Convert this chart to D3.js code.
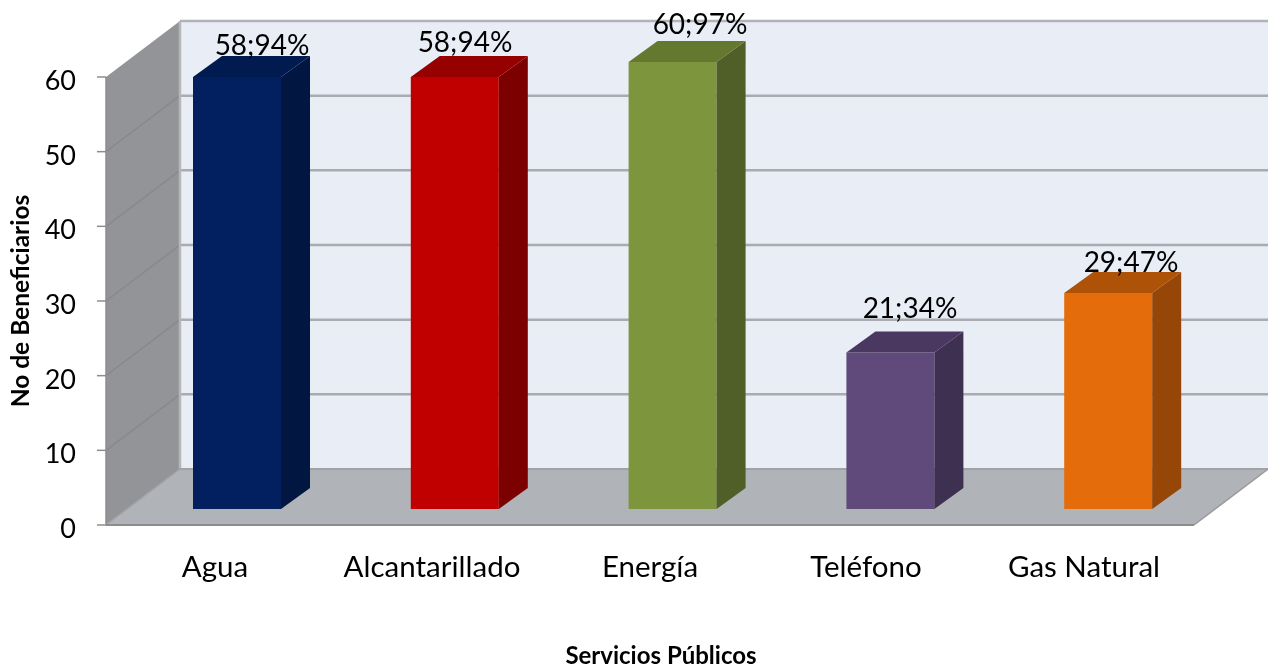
<!DOCTYPE html>
<html><head><meta charset="utf-8"><script src="https://cdn.jsdelivr.net/npm/d3@7"></script>
<style>html,body{margin:0;background:#fff}svg{display:block;filter:blur(0.35px)}text{font-family:Lato,"Noto Sans",sans-serif;fill:#000}</style></head><body>
<svg id="c" width="1268" height="671"></svg>
<script>
const categories=["Agua","Alcantarillado","Energía","Teléfono","Gas Natural"];
const values=[58,58,60,21,29];
const labels=["58;94%","58;94%","60;97%","21;34%","29;47%"];
const frontColors=["#02205f","#c00000","#7d953c","#604a7b","#e46c0a"];
const sideColors=["#011640","#7d0000","#4f5f27","#3e3050","#964607"];
const topColors=["#011a50","#960000","#65782f","#4a3860","#ae5207"];
const ticks=[0,10,20,30,40,50,60];
const svg=d3.select("#c");
const y=d3.scaleLinear().domain([0,60]).range([525,77]);
const dx=74,dy=-56,bdx=29,bdy=-21,barW=88,baseY=509;
const barLeft=d3.scaleBand().domain(categories).range([193,1282]).paddingInner(0);
const bs=d3.scaleLinear().domain([0,60]).range([baseY,62]);
const labelPos=[[262,55],[465,52],[700,34],[910,318],[1131,272]];
const catX=[215,432,650,866,1084];
const poly=(pts,fill)=>svg.append("polygon").attr("points",pts.map(p=>p.join(",")).join(" ")).attr("fill",fill);
const x0=106,x1=1194,yb=y(0),yt=y(60),topY=yt+dy;
poly([[x0+dx,topY],[1268,topY],[1268,yb+dy],[x0+dx,yb+dy]],"#e8edf6");
poly([[x0,yt],[x0+dx,topY],[x0+dx,yb+dy],[x0,yb]],"#939497");
poly([[x0,yb],[x0+dx,yb+dy],[x1+dx,yb+dy],[x1,yb]],"#b0b3b8");
svg.append("line").attr("x1",x0+dx).attr("x2",1268).attr("y1",topY).attr("y2",topY).attr("stroke","#b2b3b6").attr("stroke-width",2.5);
ticks.forEach(t=>{
  if(t===0||t===60)return;
  const p=y(t);
  svg.append("line").attr("x1",x0+dx).attr("x2",1268).attr("y1",p+dy).attr("y2",p+dy).attr("stroke","#a9abb0").attr("stroke-width",2.5);
  svg.append("line").attr("x1",x0).attr("x2",x0+dx).attr("y1",p).attr("y2",p+dy).attr("stroke","#88898c").attr("stroke-width",1.5);
});
svg.append("line").attr("x1",x0+dx).attr("x2",x0+dx).attr("y1",topY).attr("y2",yb+dy).attr("stroke","#b5b6b9").attr("stroke-width",2.5);
svg.append("line").attr("x1",x0+dx).attr("x2",1268).attr("y1",yb+dy).attr("y2",yb+dy).attr("stroke","#a0a2a6").attr("stroke-width",2);
svg.append("line").attr("x1",x0).attr("x2",x0+dx).attr("y1",yb).attr("y2",yb+dy).attr("stroke","#a3a4a8").attr("stroke-width",1.5);
svg.append("line").attr("x1",x0).attr("x2",x1).attr("y1",yb).attr("y2",yb).attr("stroke","#8c8c8c").attr("stroke-width",2);
svg.append("line").attr("x1",x1).attr("x2",x1+dx).attr("y1",yb).attr("y2",yb+dy).attr("stroke","#9a9a9a").attr("stroke-width",1.5);
svg.append("line").attr("x1",x0).attr("x2",x0).attr("y1",yt).attr("y2",yb).attr("stroke","#8c8c8c").attr("stroke-width",1.5);
ticks.forEach(t=>{
  svg.append("line").attr("x1",x0-9).attr("x2",x0).attr("y1",y(t)).attr("y2",y(t)).attr("stroke","#8c8c8c").attr("stroke-width",1.5);
  svg.append("text").attr("x",76).attr("y",y(t)+13).attr("text-anchor","end").attr("font-size",27).text(t);
});
categories.forEach((c,i)=>{
  const left=barLeft(c),r=left+barW,t=bs(values[i]);
  poly([[left,t],[r,t],[r,baseY],[left,baseY]],frontColors[i]);
  poly([[r,t],[r+bdx,t+bdy],[r+bdx,baseY+bdy],[r,baseY]],sideColors[i]);
  poly([[left,t],[left+bdx,t+bdy],[r+bdx,t+bdy],[r,t]],topColors[i]);
});
categories.forEach((c,i)=>{
  svg.append("text").attr("x",labelPos[i][0]).attr("y",labelPos[i][1]).attr("text-anchor","middle").attr("font-size",28).text(labels[i]);
  svg.append("text").attr("x",catX[i]).attr("y",577).attr("text-anchor","middle").attr("font-size",29.5).text(c);
});
svg.append("text").attr("x",661).attr("y",664).attr("text-anchor","middle").attr("font-size",24).attr("font-weight",700).text("Servicios Públicos");
svg.append("text").attr("transform","translate(29,301) rotate(-90)").attr("text-anchor","middle").attr("font-size",24.5).attr("font-weight",700).text("No de Beneficiarios");
</script></body></html>
